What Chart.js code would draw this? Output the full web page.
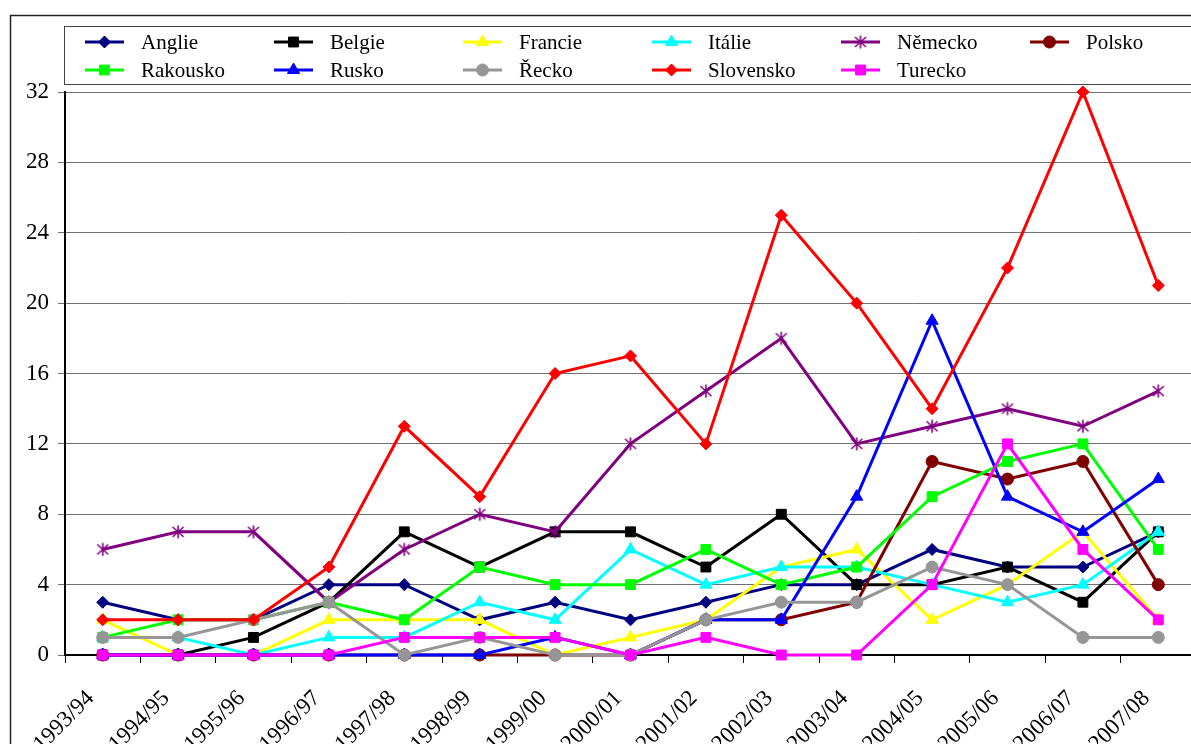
<!DOCTYPE html>
<html>
<head>
<meta charset="utf-8">
<script src="https://cdn.jsdelivr.net/npm/chart.js@4.4.1/dist/chart.umd.min.js"></script>
<style>
html,body{margin:0;padding:0;background:#fff;overflow:hidden;}
#wrap{position:absolute;left:0;top:0;width:1240px;height:800px;}
</style>
</head>
<body>
<div id="wrap"><canvas id="c" width="1240" height="800"></canvas></div>
<script>
const categories = ['1993/94','1994/95','1995/96','1996/97','1997/98','1998/99','1999/00','2000/01','2001/02','2002/03','2003/04','2004/05','2005/06','2006/07','2007/08'];
const yTicks = [0,4,8,12,16,20,24,28,32];

const anglie    = [3,2,2,4,4,2,3,2,3,4,4,6,5,5,7];
const belgie    = [0,0,1,3,7,5,7,7,5,8,4,4,5,3,7];
const francie   = [2,0,0,2,2,2,0,1,2,5,6,2,4,7,2];
const italie    = [1,1,0,1,1,3,2,6,4,5,5,4,3,4,7];
const nemecko   = [6,7,7,3,6,8,7,12,15,18,12,13,14,13,15];
const polsko    = [0,0,0,0,0,0,0,0,2,2,3,11,10,11,4];
const rakousko  = [1,2,2,3,2,5,4,4,6,4,5,9,11,12,6];
const rusko     = [0,0,0,0,0,0,1,0,2,2,9,19,9,7,10];
const recko     = [1,1,2,3,0,1,0,0,2,3,3,5,4,1,1];
const slovensko = [2,2,2,5,13,9,16,17,12,25,20,14,22,32,21];
const turecko   = [0,0,0,0,1,1,1,0,1,0,0,4,12,6,2];

// six-armed asterisk marker
function makeAsterisk(color) {
  const c = document.createElement('canvas');
  c.width = 16; c.height = 16;
  const g = c.getContext('2d');
  g.strokeStyle = color;
  g.lineWidth = 1.6;
  g.beginPath();
  g.moveTo(8, 1.5); g.lineTo(8, 14.5);
  g.moveTo(2.5, 3); g.lineTo(13.5, 13);
  g.moveTo(13.5, 3); g.lineTo(2.5, 13);
  g.stroke();
  return c;
}

const seriesDefs = [
  ['Anglie', anglie, '#000080', 'rectRot', 6],
  ['Belgie', belgie, '#000000', 'rect', 7],
  ['Francie', francie, '#FFFF00', 'triangle', 7],
  ['Itálie', italie, '#00FFFF', 'triangle', 7],
  ['Německo', nemecko, '#800080', makeAsterisk('#800080'), 8],
  ['Polsko', polsko, '#800000', 'circle', 6],
  ['Rakousko', rakousko, '#00FF00', 'rect', 7],
  ['Rusko', rusko, '#0000FF', 'triangle', 7],
  ['Řecko', recko, '#969696', 'circle', 6],
  ['Slovensko', slovensko, '#FF0000', 'rectRot', 6],
  ['Turecko', turecko, '#FF00FF', 'rect', 7]
];

const datasets = seriesDefs.map((s, i) => ({
  label: s[0],
  data: s[1],
  borderColor: s[2],
  backgroundColor: s[2],
  pointBackgroundColor: s[2],
  pointBorderColor: s[2],
  pointStyle: s[3],
  pointRadius: s[4],
  pointBorderWidth: 1,
  borderWidth: 3,
  tension: 0,
  order: seriesDefs.length - i,
  clip: false
}));

const FONT = '"Liberation Serif", "Times New Roman", serif';

const framePlugin = {
  id: 'frame',
  beforeDraw(chart) {
    const ctx = chart.ctx;
    ctx.save();
    ctx.fillStyle = '#fff';
    ctx.fillRect(0, 0, chart.width, chart.height);
    ctx.strokeStyle = '#222';
    ctx.lineWidth = 1.5;
    ctx.strokeRect(10.5, 15.5, 1400, 900);
    ctx.restore();
  },
  afterDraw(chart) {
    const ctx = chart.ctx;
    ctx.save();
    ctx.strokeStyle = '#444';
    ctx.lineWidth = 1;
    ctx.strokeRect(64.5, 26.5, 1400, 58);
    chart.data.datasets.forEach((ds, i) => {
      const col = i % 6, row = Math.floor(i / 6);
      const x0 = 85 + col * 189, x1 = x0 + 39, y = 42 + row * 28;
      ctx.strokeStyle = ds.borderColor;
      ctx.lineWidth = 3;
      ctx.beginPath();
      ctx.moveTo(x0, y);
      ctx.lineTo(x1, y);
      ctx.stroke();
      ctx.fillStyle = ds.pointBackgroundColor;
      ctx.strokeStyle = ds.pointBorderColor;
      ctx.lineWidth = ds.pointBorderWidth;
      Chart.helpers.drawPoint(ctx, {pointStyle: ds.pointStyle, radius: ds.pointRadius, rotation: 0, borderWidth: ds.pointBorderWidth}, (x0 + x1) / 2, y);
      ctx.fillStyle = '#000';
      ctx.font = '21px ' + FONT;
      ctx.textBaseline = 'middle';
      ctx.textAlign = 'left';
      ctx.fillText(ds.label, x0 + 56, y + 1);
    });
    ctx.restore();
  }
};

new Chart(document.getElementById('c'), {
  type: 'line',
  data: { labels: categories, datasets },
  plugins: [framePlugin],
  options: {
    responsive: false,
    maintainAspectRatio: false,
    animation: false,
    layout: { padding: { left: 0, top: 92, right: 1240 - 1196, bottom: 0 } },
    plugins: { legend: { display: false }, tooltip: { enabled: false } },
    scales: {
      x: {
        offset: true,
        afterFit(scale) { scale.height = 800 - 655; },
        grid: { offset: true, drawOnChartArea: false, drawTicks: true, tickLength: 8, color: '#000', lineWidth: 1 },
        border: { display: true, color: '#000', width: 2 },
        ticks: {
          minRotation: 45, maxRotation: 45, autoSkip: false,
          color: '#000', padding: 22, labelOffset: -12,
          font: { family: FONT, size: 23 }
        }
      },
      y: {
        min: 0, max: 32,
        afterFit(scale) { scale.width = 65; },
        afterBuildTicks(scale) { scale.ticks = yTicks.map(v => ({ value: v })); },
        grid: { drawOnChartArea: true, drawTicks: true, tickLength: 7, color: '#707070', lineWidth: 1 },
        border: { display: true, color: '#000', width: 2 },
        ticks: { color: '#000', padding: 9, font: { family: FONT, size: 23 } }
      }
    }
  }
});
</script>
</body>
</html>
